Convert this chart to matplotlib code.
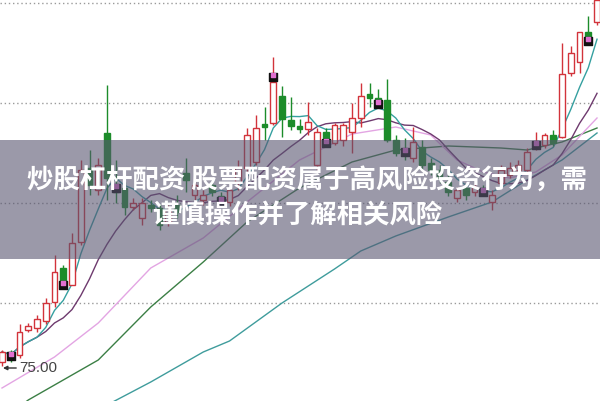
import numpy as np
import pandas as pd
import matplotlib
matplotlib.use("Agg")
import matplotlib.pyplot as plt
from matplotlib.patches import Rectangle

# daily K-line
opens = [75.20, 75.70, 75.55, 76.80, 76.90, 77.25, 78.20, 79.90, 79.05, 81.20,
         84.90, 83.80, 86.65, 84.05, 83.90, 82.95, 82.40, 83.05, 82.90, 82.20,
         83.05, 84.65, 83.55, 83.30, 84.05, 83.50, 83.20, 84.20, 84.90, 85.20,
         87.10, 87.15, 88.50, 87.30, 87.00, 86.85, 85.05, 86.70, 86.15, 86.30,
         86.70, 87.40, 88.60, 88.40, 88.30, 86.30, 85.80, 85.40, 85.95, 85.15,
         84.80, 84.20, 83.40, 83.90, 83.70, 83.90, 83.20, 84.15, 84.55, 84.80,
         84.80, 85.90, 86.05, 86.55, 86.45, 89.65, 90.20, 91.70, 92.20]
highs = [75.80, 75.80, 77.10, 77.15, 77.55, 78.40, 80.55, 80.05, 81.65, 85.30,
         85.80, 85.40, 89.05, 85.30, 84.20, 83.40, 83.40, 83.30, 83.10, 83.05,
         83.55, 85.40, 84.40, 83.80, 84.30, 83.70, 84.00, 85.30, 86.90, 87.55,
         87.95, 90.45, 89.00, 88.45, 87.35, 88.20, 86.90, 86.90, 87.15, 87.15,
         88.15, 89.15, 89.15, 88.85, 89.35, 86.55, 86.40, 86.95, 86.30, 85.40,
         85.05, 84.55, 83.95, 84.15, 84.30, 84.05, 83.80, 85.05, 85.20, 85.30,
         85.90, 86.70, 86.65, 86.80, 91.15, 91.00, 91.70, 92.50, 93.80]
lows = [75.00, 75.20, 75.40, 76.70, 76.70, 77.10, 77.95, 79.15, 79.05, 81.05,
        83.55, 83.55, 83.30, 83.15, 82.55, 82.80, 82.05, 82.70, 81.80, 82.00,
        82.40, 83.70, 83.30, 83.05, 83.50, 83.05, 83.00, 83.80, 84.70, 85.05,
        86.30, 87.05, 86.45, 86.80, 86.65, 86.55, 84.80, 86.30, 86.05, 86.00,
        85.65, 86.95, 87.95, 87.90, 86.20, 85.50, 85.30, 85.20, 84.80, 84.55,
        84.15, 83.50, 83.20, 83.30, 83.50, 83.50, 82.80, 84.00, 84.40, 84.65,
        84.70, 85.80, 85.90, 86.00, 86.40, 89.50, 89.65, 91.05, 92.05]
closes = [75.70, 75.45, 76.70, 77.00, 77.35, 78.15, 79.70, 79.20, 81.15, 84.80,
          84.05, 85.05, 84.40, 83.70, 82.95, 83.15, 83.15, 82.90, 82.05, 82.80,
          82.70, 84.30, 84.05, 83.55, 83.70, 83.35, 83.80, 84.90, 86.55, 86.90,
          86.95, 89.20, 87.35, 87.00, 86.85, 87.20, 86.70, 86.40, 87.05, 87.05,
          87.40, 88.50, 88.40, 88.15, 86.30, 85.65, 85.55, 86.20, 85.05, 84.80,
          84.40, 83.70, 83.80, 83.55, 83.95, 83.70, 83.55, 84.80, 84.90, 85.05,
          85.70, 86.20, 86.55, 86.15, 89.60, 90.65, 91.70, 91.45, 93.30]

# longer averages, read at a few candles
ma20_idx = [0, 6, 11, 17, 23, 28, 34, 40, 45, 49, 52, 55, 58, 61, 64, 68]
ma20_val = [73.90, 75.45, 77.15, 79.90, 81.40, 83.20, 85.30, 86.60, 86.95,
            86.55, 85.30, 84.70, 84.40, 84.70, 85.55, 87.40]
ma30_idx = [0, 3, 11, 17, 23, 28, 34, 40, 45, 51, 57, 60, 64, 68]
ma30_val = [72.30, 73.30, 75.30, 77.95, 80.20, 82.20, 83.90, 85.20, 85.80,
            86.00, 85.90, 85.80, 86.20, 86.90]
ma60_idx = [12, 17, 23, 26, 32, 38, 41, 45, 51, 56, 60, 64, 68]
ma60_val = [73.05, 74.20, 75.70, 76.25, 78.15, 79.85, 80.75, 81.50, 82.45,
            83.20, 84.30, 85.30, 86.65]

# signal squares
sig_idx = [1, 7, 13, 25, 31, 37, 43, 46, 55, 61, 67]
sig_val = [75.50, 79.05, 83.90, 83.25, 89.45, 86.15, 88.10, 85.70, 83.70, 86.05, 91.25]

low_label = "75.00"
title_1 = "炒股杠杆配资 股票配资属于高风险投资行为，需"
title_2 = "谨慎操作并了解相关风险"

df = pd.DataFrame({'open': opens, 'high': highs, 'low': lows, 'close': closes})
df['ma5'] = df['close'].rolling(5, min_periods=1).mean()
df['ma10'] = df['close'].rolling(10, min_periods=1).mean()
x = np.arange(len(df))

fig = plt.figure(figsize=(6, 4.01), dpi=100)
ax = fig.add_axes([0, 0, 1, 1])
ax.set_xlim(-0.229, 68.34)
ax.set_ylim(73.25, 93.3)
ax.axis('off')

for g in [78.15, 83.15, 88.15, 93.15]:
    ax.axhline(g, color='#9a9a9a', linestyle=(0, (1, 2)), linewidth=1, zorder=1)

ax.plot(ma60_idx, ma60_val, color='#3f9c9c', linewidth=1, zorder=2)
ax.plot(ma30_idx, ma30_val, color='#3b7f45', linewidth=1, zorder=2)
ax.plot(ma20_idx, ma20_val, color='#e3a5e3', linewidth=1, zorder=2)
ax.plot(x, df['ma10'], color='#6e3a6e', linewidth=1, zorder=2)
ax.plot(x, df['ma5'], color='#35a0a0', linewidth=1, zorder=2)

up = df['close'] >= df['open']
edge = np.where(up, '#d2333b', '#1c8c2a')
face = np.where(up, 'white', '#1c8c2a')
ax.vlines(x, df['low'], df['high'], colors=edge, linewidth=1, zorder=3)
body = (df['close'] - df['open']).abs().clip(lower=0.08)
ax.bar(x, body, bottom=df[['open', 'close']].min(axis=1), width=0.68,
       color=face, edgecolor=edge, linewidth=1, zorder=4)

ax.scatter(sig_idx, sig_val, marker='s', s=26, color='#111111', zorder=5)
ax.scatter(sig_idx, np.array(sig_val) + 0.12, marker='s', s=10, color='#e070d0', zorder=6)

ax.annotate(low_label, xy=(0.11, 74.9), xytext=(1.94, 74.9), va='center', ha='left',
            fontsize=11, color='#444444', family=['Liberation Sans', 'DejaVu Sans'],
            arrowprops=dict(arrowstyle='-|>', color='#333333', lw=1, mutation_scale=6,
                            shrinkA=0, shrinkB=0))

ax.add_patch(Rectangle((0, 0.354), 1, 0.297, transform=ax.transAxes,
                       color=(88/255, 85/255, 112/255), alpha=0.6, lw=0, zorder=10))

cjk = ['Noto Sans CJK SC', 'DejaVu Sans']
fig.text(307/600, 1 - 181/401, title_1, ha='center', va='center', fontsize=19,
         fontweight='bold', color='white', family=cjk, zorder=11)
fig.text(297/600, 1 - 216/401, title_2, ha='center', va='center', fontsize=19,
         fontweight='bold', color='white', family=cjk, zorder=11)

fig.savefig('out.png', dpi=100)
